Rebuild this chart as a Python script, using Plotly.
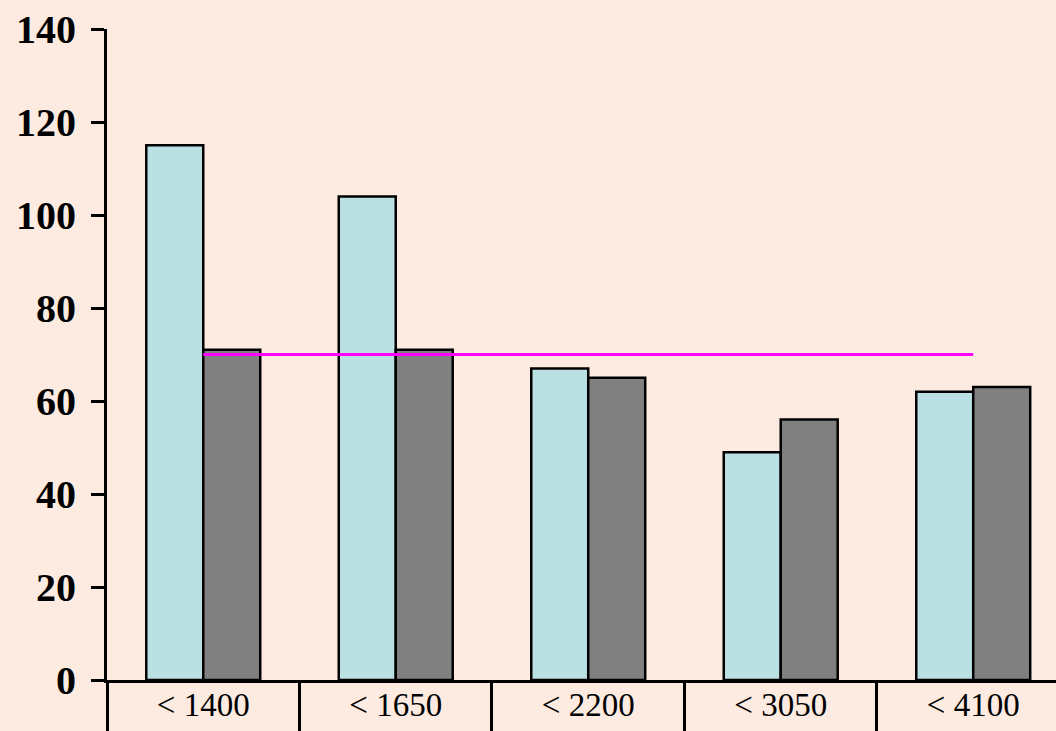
import plotly.graph_objects as go

# Income bands and the two measured series
categories = ["< 1400", "< 1650", "< 2200", "< 3050", "< 4100"]
series_a = [115, 104, 67, 49, 62]
series_b = [71, 71, 65, 56, 63]
reference_level = [70, 70, 70, 70, 70]
y_ticks = [0, 20, 40, 60, 80, 100, 120, 140]

BG = "#FDEBE1"
FONT = "Liberation Serif"

fig = go.Figure()
fig.add_trace(go.Bar(
    x=categories, y=series_a,
    marker=dict(color="#BBE0E3", line=dict(color="black", width=2.5)),
))
fig.add_trace(go.Bar(
    x=categories, y=series_b,
    marker=dict(color="#808080", line=dict(color="black", width=2.5)),
))
fig.add_trace(go.Scatter(
    x=categories, y=reference_level, mode="lines",
    line=dict(color="#FF00FF", width=3),
))

fig.update_layout(
    width=1056, height=731,
    margin=dict(l=107, r=0, t=29, b=51),
    paper_bgcolor=BG, plot_bgcolor=BG,
    barmode="group", bargap=0.408, bargroupgap=0,
    showlegend=False,
    font=dict(family=FONT, color="black"),
)
fig.update_xaxes(
    type="category", range=[-0.5, 4.43], automargin=False,
    showline=True, linecolor="black", linewidth=3,
    showgrid=False, zeroline=False,
    ticks="outside", tickson="boundaries", ticklen=60, tickwidth=2.5, tickcolor="black",
    tickfont=dict(family=FONT, size=33, color="black"),
    ticklabelstandoff=-7,
)
fig.update_yaxes(
    range=[0, 140], tickvals=y_ticks, automargin=False,
    showline=True, linecolor="black", linewidth=3,
    showgrid=False, zeroline=False,
    ticks="outside", ticklen=13, tickwidth=3, tickcolor="black",
    tickfont=dict(family=FONT, size=40, color="black", weight="bold"),
    ticklabelstandoff=7,
)

fig.write_html("out.html")
